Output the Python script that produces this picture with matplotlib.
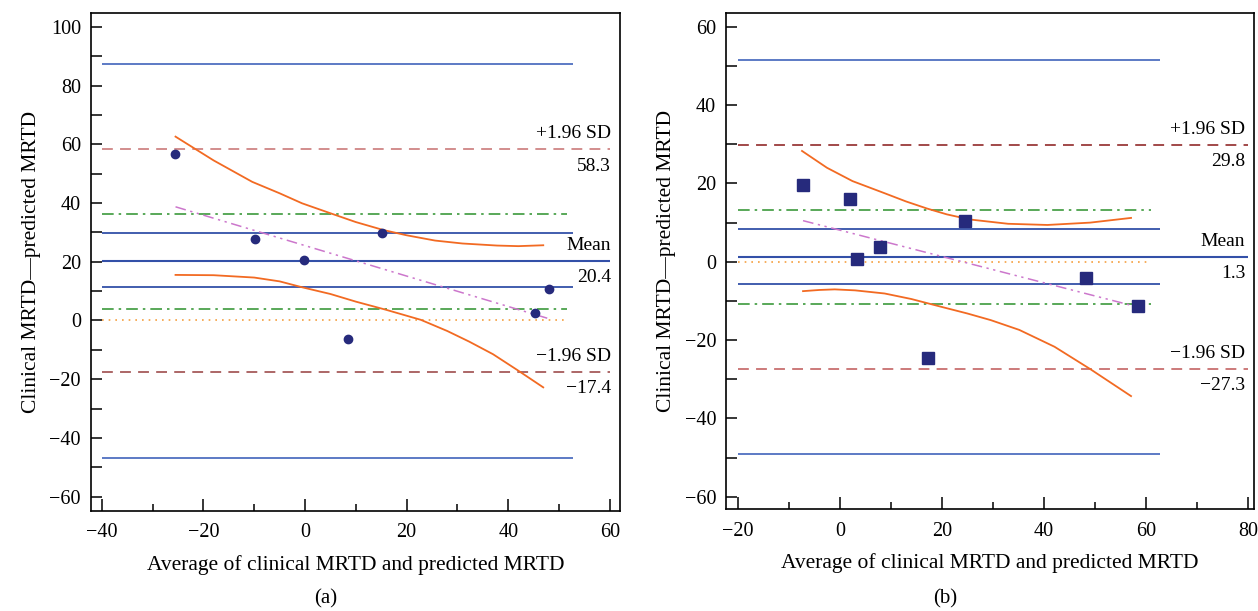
import matplotlib
matplotlib.use("Agg")
import matplotlib.pyplot as plt
from matplotlib.ticker import MultipleLocator

plt.rcParams['font.family'] = ['Liberation Serif', 'DejaVu Serif']
plt.rcParams['font.size'] = 14

# ---- panel (a) data ----
a_avg = [-25.7, -9.9, -0.2, 8.4, 15.2, 45.3, 48.0]
a_diff = [56.8, 27.6, 20.6, -6.3, 29.7, 2.4, 10.6]
a_mean = 20.4
a_sd_hi, a_sd_lo = 58.3, -17.4
a_mean_ci = [11.5, 29.7]
a_loa_ci = [-46.7, 87.2]
a_pi = [4.0, 36.4]
a_reg_x = [-25.5, 47.8]
a_reg_y = [38.7, 0.7]
a_up_x = [-25.5, -18, -10.4, -5, -0.6, 5, 10, 15.4, 20, 25.6, 31, 37.8, 42, 46.9]
a_up_y = [62.6, 54.5, 47.2, 43.3, 39.9, 36.5, 33.5, 30.8, 29.0, 27.2, 26.2, 25.5, 25.3, 25.6]
a_lo_x = [-25.5, -18, -10, -5, -0.6, 5, 10, 16, 22.8, 28, 32.3, 37, 41.8, 46.9]
a_lo_y = [15.5, 15.4, 14.6, 13.3, 11.3, 9.0, 6.4, 3.6, 0.2, -3.6, -7.2, -11.5, -16.9, -22.8]

# ---- panel (b) data ----
b_avg = [-7.2, 2.0, 7.9, 3.3, 24.6, 48.3, 58.5, 17.3]
b_diff = [19.6, 16.0, 3.75, 0.7, 10.5, -4.2, -11.2, -24.5]
b_mean = 1.3
b_sd_hi, b_sd_lo = 29.8, -27.3
b_mean_ci = [-5.6, 8.3]
b_loa_ci = [-49.0, 51.5]
b_pi = [-10.9, 13.1]
b_reg_x = [-7.2, 57.1]
b_reg_y = [10.5, -11.1]
b_up_x = [-7.4, -2.5, 2.5, 8.8, 13, 17.1, 21, 25.5, 33, 40.7, 49.1, 57.1]
b_up_y = [28.3, 24.0, 20.6, 17.5, 15.4, 13.6, 12.1, 10.8, 9.7, 9.4, 10.0, 11.2]
b_lo_x = [-7.2, -4, -1, 3, 8.8, 14, 19.9, 25, 29.6, 35.2, 42.1, 49.1, 57.1]
b_lo_y = [-7.5, -7.2, -7.05, -7.3, -8.1, -9.5, -11.5, -13.2, -14.9, -17.4, -21.7, -27.4, -34.3]

fig = plt.figure(figsize=(12.58, 6.11), dpi=100)
ax1 = fig.add_axes([0.0721, 0.1642, 0.4207, 0.814])
ax2 = fig.add_axes([0.5769, 0.1665, 0.4199, 0.8127])


def draw(ax, avg, diff, mean, sd_hi, sd_lo, mean_ci, loa_ci, pi, reg_x, reg_y,
         up_x, up_y, lo_x, lo_y, x0, x_short, x_pi, x_end, x_txt, marker, ms,
         col_hi, col_lo):
    blue = '#3350a8'
    ax.hlines(loa_ci, x0, x_short, colors='#4f6fc0', lw=1.3)
    ax.hlines(mean_ci, x0, x_short, colors=blue, lw=1.3)
    ax.hlines(mean, x0, x_end, colors=blue, lw=1.5)
    ax.hlines(sd_hi, x0, x_end, colors=col_hi, lw=1.3, linestyles=(0, (6, 4)))
    ax.hlines(sd_lo, x0, x_end, colors=col_lo, lw=1.3, linestyles=(0, (6, 4)))
    ax.hlines(pi, x0, x_pi, colors='#3c9a3c', lw=1.2, linestyles=(0, (7, 3, 1.5, 3)))
    ax.hlines(0, x0, x_pi, colors='#f5a040', lw=1.2, linestyles=(0, (1, 3)))
    ax.plot(reg_x, reg_y, color='#cc77cc', lw=1.1,
            linestyle=(0, (7, 3, 1.5, 3, 1.5, 3)))
    ax.plot(up_x, up_y, color='#f26a22', lw=1.3)
    ax.plot(lo_x, lo_y, color='#f26a22', lw=1.3)
    ax.plot(avg, diff, linestyle='none', marker=marker, ms=ms,
            color='#262a7c', mec='#262a7c')

    kw = dict(ha='right', fontsize=14, textcoords='offset points')
    ax.annotate('+1.96 SD', (x_txt, sd_hi), xytext=(0, 5), va='bottom', **kw)
    ax.annotate(f'{sd_hi:.1f}', (x_txt, sd_hi), xytext=(0, -6), va='top', **kw)
    ax.annotate('Mean', (x_txt, mean), xytext=(0, 5), va='bottom', **kw)
    ax.annotate(f'{mean:.1f}', (x_txt, mean), xytext=(0, -6), va='top', **kw)
    ax.annotate('\u22121.96 SD', (x_txt, sd_lo), xytext=(0, 5), va='bottom', **kw)
    ax.annotate(f'\u2212{abs(sd_lo):.1f}', (x_txt, sd_lo), xytext=(0, -6), va='top', **kw)

    ax.tick_params(which='both', direction='in', width=1.1, labelsize=14.5,
                   top=False, right=False)
    ax.tick_params(axis='x', which='major', length=9, pad=9)
    ax.tick_params(axis='x', which='minor', length=5)
    ax.tick_params(axis='y', which='both', length=8, pad=7)
    ax.xaxis.set_minor_locator(MultipleLocator(10))
    ax.yaxis.set_minor_locator(MultipleLocator(10))
    for s in ax.spines.values():
        s.set_linewidth(1.2)
    ax.set_xlabel('Average of clinical MRTD and predicted MRTD', fontsize=15.5,
                  labelpad=9)
    ax.set_ylabel('Clinical MRTD\u2014predicted MRTD', fontsize=15.5, labelpad=6)


draw(ax1, a_avg, a_diff, a_mean, a_sd_hi, a_sd_lo, a_mean_ci, a_loa_ci, a_pi,
     a_reg_x, a_reg_y, a_up_x, a_up_y, a_lo_x, a_lo_y,
     x0=-40, x_short=52.7, x_pi=51.6, x_end=60, x_txt=60.2, marker='o', ms=6,
     col_hi='#cf8585', col_lo='#a65a5a')
ax1.set_xlim(-42.2, 62.0)
ax1.set_ylim(-64.8, 104.6)
ax1.xaxis.set_major_locator(MultipleLocator(20))
ax1.yaxis.set_major_locator(MultipleLocator(20))

draw(ax2, b_avg, b_diff, b_mean, b_sd_hi, b_sd_lo, b_mean_ci, b_loa_ci, b_pi,
     b_reg_x, b_reg_y, b_up_x, b_up_y, b_lo_x, b_lo_y,
     x0=-20, x_short=62.8, x_pi=61.0, x_end=80, x_txt=79.5, marker='s', ms=8,
     col_hi='#9a3a3a', col_lo='#c87070')
ax2.set_xlim(-22.35, 81.2)
ax2.set_ylim(-63.2, 63.6)
ax2.xaxis.set_major_locator(MultipleLocator(20))
ax2.yaxis.set_major_locator(MultipleLocator(20))

fig.text(0.2585, 0.004, '(a)', ha='center', va='bottom', fontsize=15)
fig.text(0.751, 0.004, '(b)', ha='center', va='bottom', fontsize=15)

fig.savefig('out.png', dpi=100)
